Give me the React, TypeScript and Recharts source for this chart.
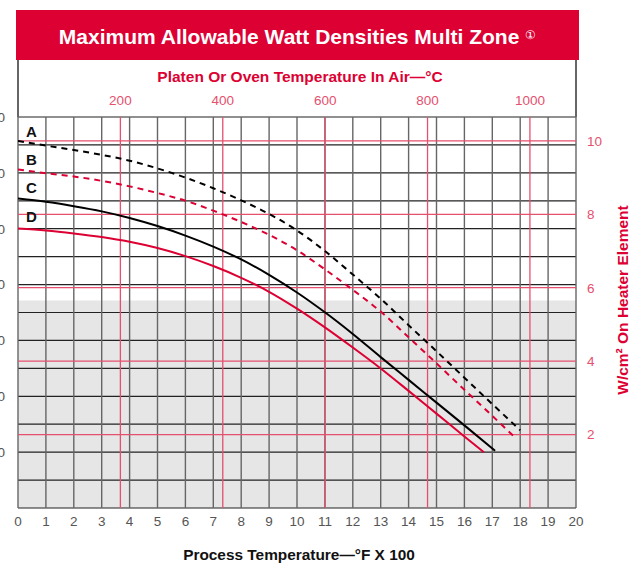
import {
  CartesianGrid, Line, LineChart, ReferenceArea, ReferenceLine, XAxis, YAxis,
} from 'recharts'

const FONT = '"Liberation Sans", Arial, Helvetica, sans-serif'
const RED = '#dc0033'
const PINK = '#e5506e'

// process temperature (°F x 100) and W/cm²
const xA = [0, 1, 2, 3, 4, 5, 6, 7, 8, 9, 10, 11, 12, 13, 14, 15, 16, 17, 18]
const curveA = [10.0, 9.87, 9.75, 9.62, 9.46, 9.25, 9.0, 8.71, 8.38, 8.01, 7.56, 7.0, 6.36, 5.7, 4.98, 4.27, 3.55, 2.83, 2.12]
const xB = [0, 1, 2, 3, 4, 5, 6, 7, 8, 9, 10, 11, 12, 13, 14, 15, 16, 17, 17.8]
const curveB = [9.22, 9.12, 9.03, 8.91, 8.76, 8.58, 8.37, 8.1, 7.79, 7.44, 7.02, 6.5, 5.94, 5.35, 4.65, 3.94, 3.22, 2.51, 1.93]
const xC = [0, 1, 2, 3, 4, 5, 6, 7, 8, 9, 10, 11, 12, 13, 14, 15, 16, 17.1]
const curveC = [8.43, 8.34, 8.22, 8.08, 7.9, 7.68, 7.42, 7.12, 6.77, 6.35, 5.87, 5.33, 4.74, 4.11, 3.49, 2.87, 2.25, 1.56]
const xD = [0, 1, 2, 3, 4, 5, 6, 7, 8, 9, 10, 11, 12, 13, 14, 15, 16, 16.7]
const curveD = [7.61, 7.56, 7.48, 7.38, 7.25, 7.08, 6.86, 6.59, 6.27, 5.89, 5.43, 4.92, 4.37, 3.8, 3.19, 2.57, 1.95, 1.52]

const fTicks = [0, 1, 2, 3, 4, 5, 6, 7, 8, 9, 10, 11, 12, 13, 14, 15, 16, 17, 18, 19, 20]
const cTicks = [200, 400, 600, 800, 1000]
const inTicks = [0, 5, 10, 15, 20, 25, 30, 35, 40, 45, 50, 55, 60, 65, 70]
const cmTicks = [2, 4, 6, 8, 10]
const shadedTop = 5.65 // W/cm², top of grey zone

const rows = (xs: number[], ys: number[]) => xs.map((f, i) => ({ f, w: ys[i] }))

const curveLabel = (txt: string, top: number) => (
  <div style={{
    position: 'absolute', left: 26, top, fontFamily: FONT, fontWeight: 700, fontSize: 15, color: '#111',
  }}>{txt}</div>
)

export default function App() {
  return (
    <div style={{ position: 'absolute', left: 0, top: 0, width: 638, height: 568, overflow: 'hidden', background: '#fff', fontFamily: FONT }}>
      <LineChart width={638} height={568} margin={{ top: 87, right: 22, bottom: 30, left: 0 }}>
        <XAxis xAxisId="f" dataKey="f" type="number" domain={[0, 20]} ticks={fTicks} interval={0}
          orientation="bottom" height={30} tickLine={false} axisLine={false} allowDataOverflow
          tick={{ fill: '#555', fontSize: 13.5, fontFamily: FONT }} />
        <XAxis xAxisId="c" dataKey="f" type="number" domain={[0, 1090]} ticks={cTicks} interval={0}
          orientation="top" height={30} tickLine={false} axisLine={false} tickMargin={6} allowDataOverflow
          tick={{ fill: PINK, fontSize: 13.5, fontFamily: FONT }} />
        <YAxis yAxisId="in" dataKey="w" type="number" domain={[0, 70]} ticks={inTicks} interval={0} width={18}
          tickLine={false} axisLine={false} tickMargin={7} allowDataOverflow
          tickFormatter={(v) => (v > 0 && v % 10 === 0 ? String(v) : '')}
          tick={{ fill: '#555', fontSize: 13.5, fontFamily: FONT }} />
        <YAxis yAxisId="cm" orientation="right" type="number" domain={[0, 10.65]} ticks={cmTicks} interval={0}
          width={40} tickLine={false} axisLine={false} tickMargin={5} allowDataOverflow
          tick={{ fill: PINK, fontSize: 13.5, fontFamily: FONT }} />

        <ReferenceArea xAxisId="f" yAxisId="cm" x1={0} x2={20} y1={0} y2={shadedTop}
          fill="#e6e6e6" fillOpacity={1} stroke="none" zIndex={-150} />
        <CartesianGrid xAxisId="f" yAxisId="in" vertical={false} stroke="#222" strokeWidth={1.2} />
        <CartesianGrid xAxisId="f" yAxisId="in" horizontal={false} stroke="#666" strokeWidth={1.4} />

        {cTicks.map((c) => (
          <ReferenceLine key={'c' + c} xAxisId="c" yAxisId="cm" x={c} stroke={PINK} strokeWidth={1.3} />
        ))}
        {cmTicks.map((w) => (
          <ReferenceLine key={'w' + w} xAxisId="f" yAxisId="cm" y={w} stroke={PINK} strokeWidth={1.3} />
        ))}

        <Line xAxisId="f" yAxisId="cm" data={rows(xA, curveA)} dataKey="w" type="monotone" stroke="#000"
          strokeWidth={2} strokeDasharray="6 5" dot={false} isAnimationActive={false} />
        <Line xAxisId="f" yAxisId="cm" data={rows(xB, curveB)} dataKey="w" type="monotone" stroke={RED}
          strokeWidth={2} strokeDasharray="6 5" dot={false} isAnimationActive={false} />
        <Line xAxisId="f" yAxisId="cm" data={rows(xC, curveC)} dataKey="w" type="monotone" stroke="#000"
          strokeWidth={2} dot={false} isAnimationActive={false} />
        <Line xAxisId="f" yAxisId="cm" data={rows(xD, curveD)} dataKey="w" type="monotone" stroke={RED}
          strokeWidth={2} dot={false} isAnimationActive={false} />
      </LineChart>

      {/* header band + frame sides above the plot */}
      <div style={{
        position: 'absolute', left: 16, top: 10, width: 563, height: 50, background: RED, color: '#fff',
        fontWeight: 700, fontSize: 21, lineHeight: '50px', textAlign: 'center',
      }}>
        Maximum Allowable Watt Densities Multi Zone <span style={{ fontSize: 12, fontWeight: 400, verticalAlign: 5 }}>①</span>
      </div>
      <div style={{ position: 'absolute', left: 17, top: 60, width: 1.5, height: 57, background: '#666' }} />
      <div style={{ position: 'absolute', left: 575, top: 60, width: 1.5, height: 57, background: '#666' }} />

      <div style={{
        position: 'absolute', left: 0, width: 600, top: 68, textAlign: 'center', color: RED, fontWeight: 700, fontSize: 15.5,
      }}>Platen Or Oven Temperature In Air—°C</div>
      <div style={{
        position: 'absolute', left: 0, width: 598, top: 546, textAlign: 'center', color: '#111', fontWeight: 700, fontSize: 15.4,
      }}>Process Temperature—°F X 100</div>
      <div style={{
        position: 'absolute', left: 623, top: 300, whiteSpace: 'nowrap', color: RED, fontWeight: 700, fontSize: 15.5,
        transform: 'translate(-50%, -50%) rotate(-90deg)',
      }}>W/cm² On Heater Element</div>

      {curveLabel('A', 123)}
      {curveLabel('B', 151)}
      {curveLabel('C', 179)}
      {curveLabel('D', 208)}
    </div>
  )
}
